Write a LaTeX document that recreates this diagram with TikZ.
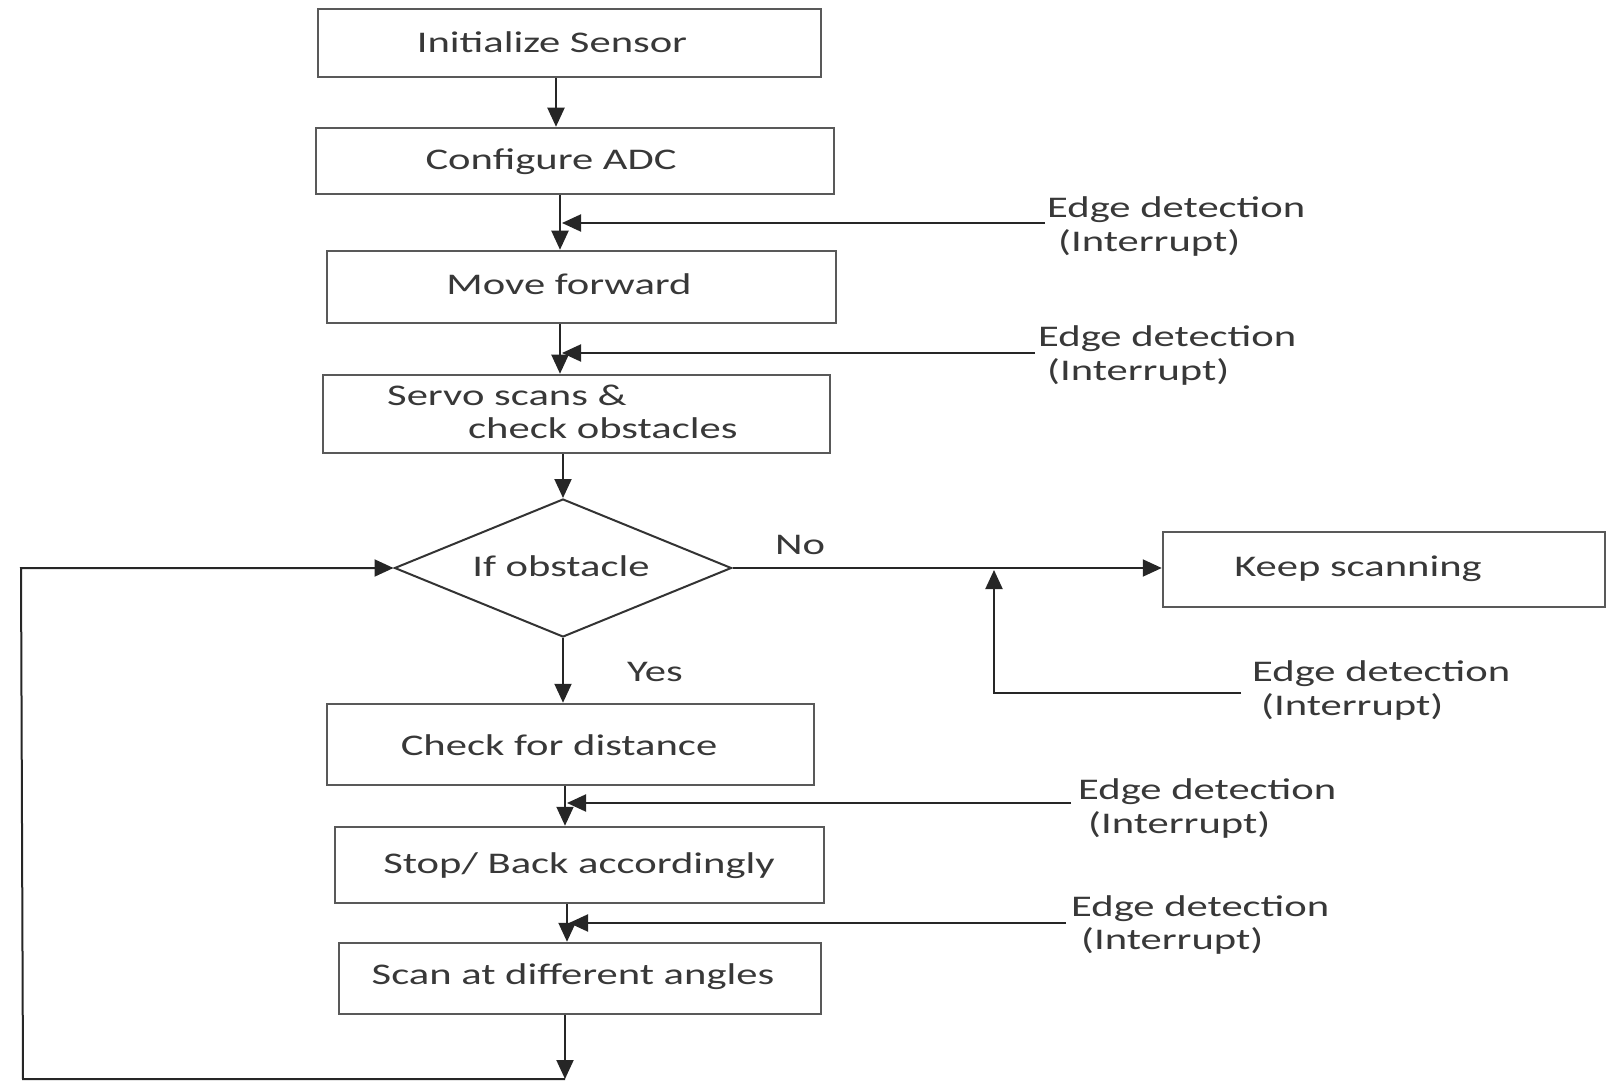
\documentclass[tikz,border=0pt]{standalone}
\usepackage{fontspec}
\setmainfont[FakeStretch=1.42]{Carlito}
\usetikzlibrary{arrows.meta,shapes.geometric}
\tikzset{
  box/.style={draw=black!65, line width=2.5pt, rectangle, inner sep=0pt},
  dbox/.style={draw=black!80, line width=2pt, diamond, inner sep=0pt},
  txt/.style={font=\fontsize{30}{34}\selectfont, text=black!78, inner sep=0pt, text height=19.5pt, text depth=0pt},
  conn/.style={draw=black!85, line width=2pt},
  arr/.style={conn, -{Triangle[length=19pt,width=17pt]}},
}
\begin{document}
\begin{tikzpicture}[x=1pt,y=-1pt]
\useasboundingbox (0,0) rectangle (1607,1083);
% boxes
\node[box, minimum width=503pt, minimum height=68pt] (init) at (569.5,43) {};
\node[box, minimum width=518pt, minimum height=66pt] (cfg) at (575,161) {};
\node[box, minimum width=509pt, minimum height=72pt] (move) at (581.5,287) {};
\node[box, minimum width=507pt, minimum height=78pt] (servo) at (576.5,414) {};
\node[dbox, minimum width=337pt, minimum height=138pt] (dia) at (563,568) {};
\node[box, minimum width=442pt, minimum height=75pt] (keep) at (1384,569.5) {};
\node[box, minimum width=487pt, minimum height=81pt] (check) at (570.5,744.5) {};
\node[box, minimum width=489pt, minimum height=76pt] (stop) at (579.5,865) {};
\node[box, minimum width=482pt, minimum height=71pt] (scan) at (580,978.5) {};
% texts
\node[txt] (tinit) at (552,43) {Initialize Sensor};
\node[txt] (tcfg) at (551,160) {Configure ADC};
\node[txt] (tmove) at (569,285) {Move forward};
\node[txt, anchor=west] (tservoa) at (387,396) {Servo scans \&};
\node[txt, anchor=west] (tservob) at (468,429) {check obstacles};
\node[txt] (tdia) at (561,567) {If obstacle};
\node[txt] (tkeep) at (1358,567) {Keep scanning};
\node[txt] (tno) at (800,545) {No};
\node[txt] (tyes) at (655,672) {Yes};
\node[txt] (tcheck) at (559,746) {Check for distance};
\node[txt] (tstop) at (579,864) {Stop/ Back accordingly};
\node[txt] (tscan) at (573,975) {Scan at different angles};
% edge detection labels
\node[txt, anchor=west] (ea1) at (1047,208) {Edge detection};
\node[txt, anchor=west] (eb1) at (1058,242) {(Interrupt)};
\node[txt, anchor=west] (ea2) at (1038,337) {Edge detection};
\node[txt, anchor=west] (eb2) at (1047,371) {(Interrupt)};
\node[txt, anchor=west] (ea3) at (1252,672) {Edge detection};
\node[txt, anchor=west] (eb3) at (1261,706) {(Interrupt)};
\node[txt, anchor=west] (ea4) at (1078,790) {Edge detection};
\node[txt, anchor=west] (eb4) at (1088,824) {(Interrupt)};
\node[txt, anchor=west] (ea5) at (1071,907) {Edge detection};
\node[txt, anchor=west] (eb5) at (1081,940) {(Interrupt)};
% column coordinates
\coordinate (xa) at (556,0);
\coordinate (xb) at (560,0);
\coordinate (xd) at (565,0);
\coordinate (xe) at (567,0);
% main flow
\draw[arr] (init.south -| xa) -- (cfg.north -| xa);
\draw[arr] (cfg.south -| xb) -- (move.north -| xb);
\draw[arr] (move.south -| xb) -- (servo.north -| xb);
\draw[arr] (servo.south -| dia.north) -- (dia.north);
\draw[arr] (dia.east) -- (dia.east -| keep.west);
\draw[arr] (dia.south) -- (dia.south |- check.north);
\draw[arr] (check.south -| xd) -- (stop.north -| xd);
\draw[arr] (stop.south -| xe) -- (scan.north -| xe);
% loop back
\coordinate (loopb) at (565,1079);
\coordinate (loopbl) at (23,1079);
\coordinate (looptl) at (21,568);
\draw[arr] (scan.south -| xd) -- (loopb);
\draw[arr] (loopb) -- (loopbl) -- (looptl) -- (dia.west);
% edge detection connectors
\coordinate (e1) at (1045,223);
\coordinate (c1) at (562,223);
\draw[arr] (e1) -- (c1);
\coordinate (e2) at (1035,353);
\coordinate (c2) at (562,353);
\draw[arr] (e2) -- (c2);
\coordinate (e3) at (1241,693);
\coordinate (c3) at (994,570);
\draw[arr] (e3) -| (c3);
\coordinate (e4) at (1071,803);
\coordinate (c4) at (567,803);
\draw[arr] (e4) -- (c4);
\coordinate (e5) at (1066,923);
\coordinate (c5) at (569,923);
\draw[arr] (e5) -- (c5);
\end{tikzpicture}
\end{document}
